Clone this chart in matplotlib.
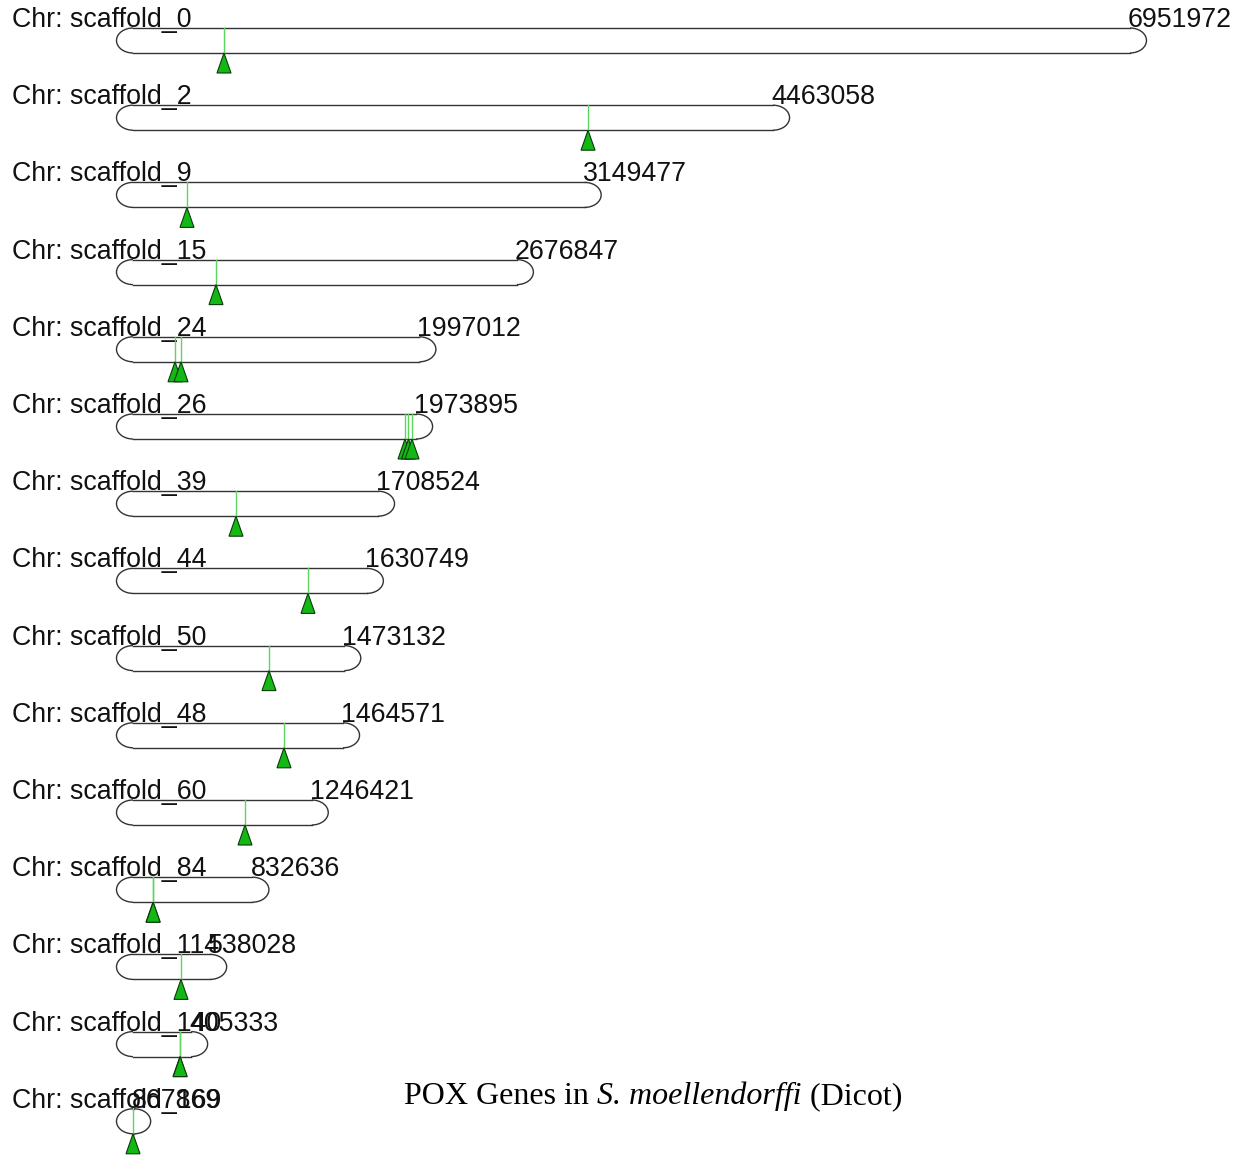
import matplotlib
matplotlib.use("Agg")
import matplotlib.pyplot as plt
from matplotlib.patches import Arc, Polygon

# 染色体 / scaffold 数据
chr_names = ["scaffold_0", "scaffold_2", "scaffold_9", "scaffold_15", "scaffold_24",
             "scaffold_26", "scaffold_39", "scaffold_44", "scaffold_50", "scaffold_48",
             "scaffold_60", "scaffold_84", "scaffold_114", "scaffold_140", "scaffold_169"]
chr_len = [6951972, 4463058, 3149477, 2676847, 1997012, 1973895, 1708524, 1630749,
           1473132, 1464571, 1246421, 832636, 538028, 405333, 8000]
len_labels = ["6951972", "4463058", "3149477", "2676847", "1997012", "1973895", "1708524",
              "1630749", "1473132", "1464571", "1246421", "832636", "538028", "405333", "867869"]
# 基因位置 (bp)
gene_pos = [
    [634500],
    [3173000],
    [376500],
    [578800],
    [292900, 334700],
    [1896700, 1921000, 1945500],
    [718200],
    [1220300],
    [948300],
    [1052900],
    [781000],
    [139500, 141000],
    [334700],
    [327700, 329000],
    [0],
]
title_parts = ["POX Genes in ", "S. moellendorffi", " (Dicot)"]
title_styles = ["normal", "italic", "normal"]

W, H = 1247, 1155
PX = 1.4341e-4      # 像素 / bp
X0 = 133            # bp=0 对应像素
ROW = 77.2          # 每行像素
Y0 = 40.5           # 第一行中心像素
CAP = 16.5          # 端帽宽 (px)
HALF = 12.5         # 半高 (px)
TRI_W = 7           # 三角半宽 (px)
TRI_H = 20          # 三角高 (px)

fig = plt.figure(figsize=(W / 100, H / 100), dpi=100)
ax = fig.add_axes([0, 0, 1, 1])
ax.set_xlim(-X0 / PX, (W - X0) / PX)
ax.set_ylim((H - Y0) / ROW, -Y0 / ROW)
ax.axis("off")

cap_w = CAP / PX
half_h = HALF / ROW
edge = "#333333"

for i, (name, L, lab, genes) in enumerate(zip(chr_names, chr_len, len_labels, gene_pos)):
    top, bot = i - half_h, i + half_h
    # 染色体轮廓
    ax.plot([0, L], [top, top], color=edge, lw=1.0)
    ax.plot([0, L], [bot, bot], color=edge, lw=1.0)
    ax.add_patch(Arc((0, i), 2 * cap_w, 2 * half_h, theta1=90, theta2=270, color=edge, lw=1.0))
    ax.add_patch(Arc((L, i), 2 * cap_w, 2 * half_h, theta1=-90, theta2=90, color=edge, lw=1.0))
    # 文字
    ax.text(-(X0 - 12) / PX, top - 1 / ROW, f"Chr: {name}", fontsize=19.3,
            family="Liberation Sans", va="baseline", ha="left", color="#111111")
    ax.text(L - 2 / PX, top - 1 / ROW, lab, fontsize=19.3,
            family="Liberation Sans", va="baseline", ha="left", color="#111111")
    # 基因
    for g in genes:
        ax.plot([g, g], [top, bot], color="#5cd65c", lw=1.0, zorder=3)
    for g in genes:
        tri = Polygon([(g, bot), (g - TRI_W / PX, bot + TRI_H / ROW), (g + TRI_W / PX, bot + TRI_H / ROW)],
                      closed=True, facecolor="#14b814", edgecolor="#0a3a0a", lw=0.8, zorder=4)
        ax.add_patch(tri)

# 标题：分段绘制（斜体物种名），整体居中
renderer = fig.canvas.get_renderer()
pieces = []
for txt, st in zip(title_parts, title_styles):
    t = fig.text(0, 1 - 1104 / H, txt, fontsize=23, family="Liberation Serif",
                 style=st, ha="left", va="baseline", color="black")
    pieces.append(t)
widths = []
for t in pieces:
    t.set_text(t.get_text().replace(" ", "\u00a0"))
    widths.append(t.get_window_extent(renderer).width)
x = 653 - sum(widths) / 2
for t, w in zip(pieces, widths):
    t.set_x(x / W)
    x += w

fig.savefig("out.png", dpi=100)
